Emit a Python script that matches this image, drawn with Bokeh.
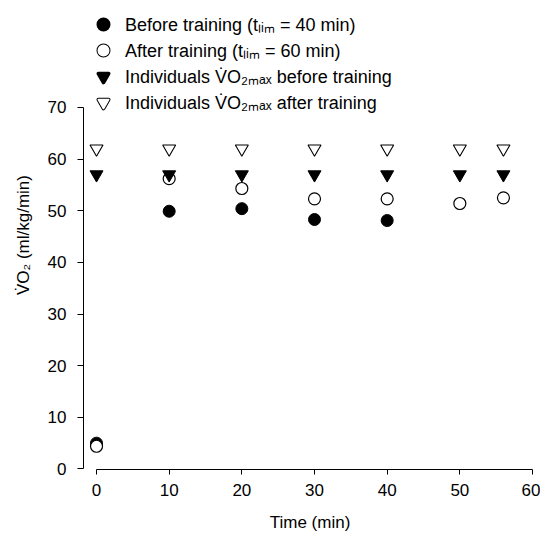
from bokeh.plotting import figure
from bokeh.models import Legend, LegendItem, Range1d, FixedTicker
from bokeh.embed import file_html
from bokeh.resources import INLINE

# ---- data ----
time_before = [0, 10, 20, 30, 40]
vo2_before = [5.0, 49.9, 50.4, 48.3, 48.1]

time_after = [0, 10, 20, 30, 40, 50, 56]
vo2_after = [4.4, 56.2, 54.3, 52.3, 52.3, 51.4, 52.5]

time_max = [0, 10, 20, 30, 40, 50, 56]
vo2max_before = [57, 57, 57, 57, 57, 57, 57]
vo2max_after = [62, 62, 62, 62, 62, 62, 62]

x_ticks = [0, 10, 20, 30, 40, 50, 60]
y_ticks = [0, 10, 20, 30, 40, 50, 60, 70]

labels = [
    "Before training (t\u2097\u1d62\u2098 = 40 min)",
    "After training (t\u2097\u1d62\u2098 = 60 min)",
    "Individuals V\u0307O\u2082\u2098\u2090\u2093 before training",
    "Individuals V\u0307O\u2082\u2098\u2090\u2093 after training",
]
y_label = "V\u0307O\u2082 (ml/kg/min)"
x_label = "Time (min)"

FONT = "Liberation Sans"

# frame spans the full height so the legend (drawn inside the frame) sits above the data
p = figure(width=540, height=535, output_backend="svg", toolbar_location=None,
           x_range=Range1d(-1.79, 60.55), y_range=Range1d(-0.1, 90.7),
           min_border_left=83, min_border_right=4, min_border_top=0,
           min_border_bottom=66)
p.outline_line_color = None
p.grid.visible = False
p.background_fill_color = "white"
p.border_fill_color = "white"

# key swatches: small heavy-stroked markers, hidden beneath the data markers,
# used only so the legend key is drawn at the reference's larger size
LW_OUT, LW_IN = 3.6, 1.6
k1 = p.scatter(time_before, vo2_before, marker="circle", size=6,
               fill_color="black", line_color="black", line_width=LW_OUT)
k2a = p.scatter(time_after, vo2_after, marker="circle", size=6,
                fill_color="black", line_color="black", line_width=LW_OUT)
k2b = p.scatter(time_after, vo2_after, marker="circle", size=6,
                fill_color="white", line_color="white", line_width=LW_IN)
k3 = p.scatter(time_max, vo2max_before, marker="inverted_triangle", size=6,
               fill_color="black", line_color="black", line_width=LW_OUT,
               line_join="round")
k4a = p.scatter(time_max, vo2max_after, marker="inverted_triangle", size=6,
                fill_color="black", line_color="black", line_width=LW_OUT,
                line_join="round")
k4b = p.scatter(time_max, vo2max_after, marker="inverted_triangle", size=6,
                fill_color="white", line_color="white", line_width=LW_IN,
                line_join="round")

# data markers
r1 = p.scatter(time_before, vo2_before, marker="circle", size=12,
               fill_color="black", line_color="black")
r2 = p.scatter(time_after, vo2_after, marker="circle", size=12,
               fill_color="white", line_color="black", line_width=1.2)
r3 = p.scatter(time_max, vo2max_before, marker="inverted_triangle", size=13,
               fill_color="black", line_color="black")
r4 = p.scatter(time_max, vo2max_after, marker="inverted_triangle", size=13,
               fill_color="white", line_color="black", line_width=1.1)

for ax, ticks in ((p.xaxis[0], x_ticks), (p.yaxis[0], y_ticks)):
    ax.ticker = FixedTicker(ticks=ticks)
    ax.minor_tick_line_color = None
    ax.major_tick_in = 0
    ax.major_tick_out = 6
    ax.axis_line_color = "black"
    ax.major_tick_line_color = "black"
    ax.major_label_text_font = FONT
    ax.major_label_text_font_size = "17px"
    ax.major_label_text_color = "black"
    ax.axis_label_text_font = FONT
    ax.axis_label_text_font_size = "17px"
    ax.axis_label_text_font_style = "normal"
    ax.axis_label_text_color = "black"

p.xaxis[0].bounds = (0, 60)
p.yaxis[0].bounds = (0, 70)
p.xaxis[0].major_tick_out = 5
p.xaxis[0].axis_label = x_label
p.yaxis[0].axis_label = y_label
p.xaxis[0].major_label_standoff = 9
p.xaxis[0].axis_label_standoff = 14
p.yaxis[0].major_label_standoff = 11
p.yaxis[0].axis_label_standoff = 12

legend = Legend(items=[LegendItem(label=labels[0], renderers=[k1]),
                       LegendItem(label=labels[1], renderers=[k2a, k2b]),
                       LegendItem(label=labels[2], renderers=[k3]),
                       LegendItem(label=labels[3], renderers=[k4a, k4b])],
                location=(7, 354), glyph_width=26, glyph_height=26,
                spacing=0, label_standoff=9, padding=0, margin=0,
                border_line_color=None, background_fill_alpha=0,
                label_text_font=FONT, label_text_font_size="18px",
                label_text_color="black")
p.add_layout(legend, "center")

open("out.html", "w").write(file_html(p, INLINE))
